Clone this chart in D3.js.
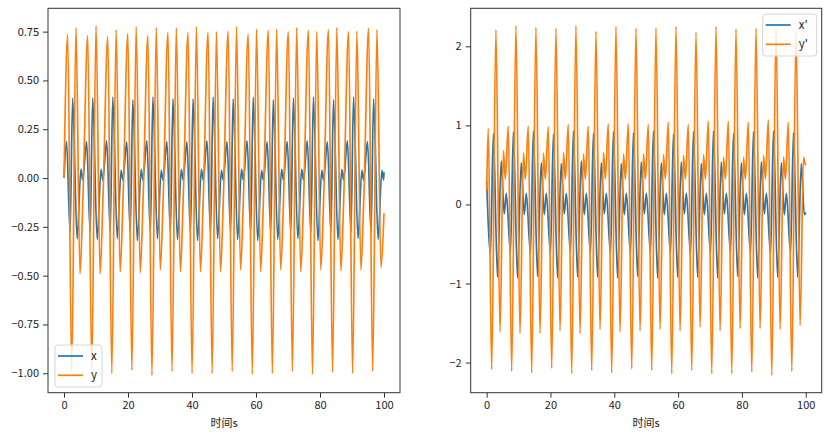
<!DOCTYPE html>
<html>
<head>
<meta charset="utf-8">
<script src="https://cdn.jsdelivr.net/npm/d3@7"></script>
<style>
  body { margin: 0; background: #fff; }
  text { font-family: "Noto Sans CJK SC", "Noto Sans", sans-serif; fill: #222; }
</style>
</head>
<body>
<div id="chart"></div>
<script>
// start of each oscillation cycle
const cycleStarts = [0, 6.27, 12.54, 18.81, 25.08, 31.35, 37.62, 43.89, 50.16, 56.43, 62.70, 68.97, 75.24, 81.51, 87.78, 94.05];

// x: extrema inside a cycle (time offset) and their values per cycle
const xOffsets = [0.80, 1.90, 2.70, 4.10, 5.30, 5.85];
const xCycles = [
    [0.187, -0.278, 0.409, -0.312, 0.046, -0.01],
    [0.187, -0.280, 0.410, -0.315, 0.045, -0.01],
    [0.190, -0.275, 0.415, -0.310, 0.040, -0.01],
    [0.185, -0.280, 0.400, -0.320, 0.045, -0.01],
    [0.190, -0.280, 0.415, -0.310, 0.040, -0.01],
    [0.187, -0.275, 0.405, -0.315, 0.045, -0.01],
    [0.185, -0.280, 0.405, -0.320, 0.045, -0.01],
    [0.190, -0.280, 0.415, -0.310, 0.040, -0.01],
    [0.187, -0.275, 0.405, -0.315, 0.045, -0.01],
    [0.190, -0.280, 0.415, -0.320, 0.040, -0.01],
    [0.185, -0.280, 0.400, -0.315, 0.045, -0.01],
    [0.187, -0.275, 0.410, -0.310, 0.045, -0.01],
    [0.190, -0.280, 0.415, -0.320, 0.040, -0.01],
    [0.185, -0.280, 0.400, -0.315, 0.045, -0.01],
    [0.190, -0.275, 0.415, -0.310, 0.040, -0.01],
    [0.187, -0.280, 0.405, -0.315, 0.040, -0.01]
];
const xEnds = [0.0, 0.03];

// y
const yOffsets = [1.15, 2.40, 3.74, 5.00, 5.95];
const yCycles = [
    [0.736, -0.990, 0.770, -0.490, -0.08],
    [0.730, -0.980, 0.780, -0.490, -0.08],
    [0.725, -1.000, 0.760, -0.480, -0.08],
    [0.740, -0.985, 0.775, -0.485, -0.08],
    [0.730, -1.010, 0.770, -0.470, -0.08],
    [0.746, -0.990, 0.768, -0.480, -0.08],
    [0.746, -1.000, 0.775, -0.480, -0.08],
    [0.746, -1.000, 0.750, -0.480, -0.08],
    [0.753, -0.990, 0.775, -0.470, -0.08],
    [0.738, -1.005, 0.763, -0.480, -0.08],
    [0.758, -1.000, 0.763, -0.470, -0.08],
    [0.750, -0.990, 0.770, -0.480, -0.08],
    [0.758, -1.005, 0.750, -0.470, -0.08],
    [0.760, -0.995, 0.770, -0.475, -0.08],
    [0.750, -1.000, 0.753, -0.470, -0.08],
    [0.767, -0.990, 0.760, -0.460, -0.08]
];
const yEnds = [0.0, -0.18];

// x'
const dxOffsets = [1.20, 2.10, 3.40, 4.55, 5.50, 6.15];
const dxCycles = [
    [-0.62, 0.90, -0.92, 0.55, -0.12, 0.14],
    [-0.61, 0.92, -0.93, 0.53, -0.13, 0.14],
    [-0.63, 0.93, -0.91, 0.53, -0.13, 0.14],
    [-0.62, 0.89, -0.93, 0.52, -0.12, 0.14],
    [-0.61, 0.93, -0.92, 0.55, -0.13, 0.14],
    [-0.62, 0.90, -0.92, 0.53, -0.12, 0.14],
    [-0.63, 0.92, -0.93, 0.52, -0.13, 0.14],
    [-0.62, 0.91, -0.91, 0.54, -0.12, 0.14],
    [-0.61, 0.93, -0.93, 0.53, -0.13, 0.14],
    [-0.62, 0.89, -0.92, 0.54, -0.12, 0.14],
    [-0.63, 0.92, -0.92, 0.52, -0.13, 0.14],
    [-0.62, 0.93, -0.93, 0.54, -0.12, 0.14],
    [-0.61, 0.90, -0.91, 0.53, -0.13, 0.14],
    [-0.62, 0.92, -0.93, 0.54, -0.12, 0.14],
    [-0.63, 0.93, -0.92, 0.53, -0.13, 0.14],
    [-0.62, 0.91, -0.92, 0.52, -0.13, 0.14]
];
const dxEnds = [0.30, -0.10];

// y'
const dyOffsets = [0.50, 1.58, 2.90, 4.18, 5.25, 5.85];
const dyCycles = [
    [0.96, -2.09, 2.21, -1.61, 0.68, 0.32],
    [0.99, -2.11, 2.26, -1.63, 0.65, 0.32],
    [0.99, -2.13, 2.24, -1.63, 0.65, 0.32],
    [0.98, -2.07, 2.23, -1.60, 0.66, 0.32],
    [1.01, -2.14, 2.26, -1.63, 0.64, 0.32],
    [0.99, -2.10, 2.19, -1.58, 0.66, 0.32],
    [1.02, -2.13, 2.25, -1.61, 0.64, 0.32],
    [1.02, -2.08, 2.23, -1.60, 0.64, 0.32],
    [1.01, -2.10, 2.23, -1.58, 0.63, 0.32],
    [1.04, -2.14, 2.25, -1.60, 0.62, 0.32],
    [1.01, -2.10, 2.18, -1.55, 0.63, 0.32],
    [1.05, -2.14, 2.25, -1.60, 0.60, 0.32],
    [1.05, -2.14, 2.22, -1.57, 0.60, 0.32],
    [1.04, -2.12, 2.23, -1.57, 0.62, 0.32],
    [1.07, -2.16, 2.23, -1.58, 0.60, 0.32],
    [1.04, -2.11, 2.18, -1.53, 0.60, 0.50]
];
const dyEnds = [0.18, 0.52];

const xTicks = [0, 20, 40, 60, 80, 100];
const leftYTicks = [-1.0, -0.75, -0.5, -0.25, 0, 0.25, 0.5, 0.75];
const rightYTicks = [-2, -1, 0, 1, 2];
const xLabel = "时间s";

const width = 830;
const height = 441;
const blue = "#1f77b4";
const orange = "#ff7f0e";

const svg = d3.select("#chart").append("svg")
    .attr("width", width)
    .attr("height", height);

svg.append("rect").attr("width", width).attr("height", height).attr("fill", "#fff");

function buildSeries(ends, offsets, cycles) {
    const pts = [[0, ends[0]]];
    cycleStarts.forEach((t0, k) => {
        offsets.forEach((o, i) => {
            const t = t0 + o;
            if (t < 100) pts.push([t, cycles[k][i]]);
        });
    });
    pts.push([100, ends[1]]);
    return pts;
}

function drawPanel(box, series, yTicks, yFormat, legendPos, id) {
    const all = series.flatMap(s => s.points.map(p => p[1]));
    const lo = d3.min(all), hi = d3.max(all);
    const pad = (hi - lo) * 0.05;

    const x = d3.scaleLinear().domain([-5, 105]).range([box.x0, box.x1]);
    const y = d3.scaleLinear().domain([lo - pad, hi + pad]).range([box.y1, box.y0]);

    svg.append("clipPath").attr("id", id)
        .append("rect")
        .attr("x", box.x0).attr("y", box.y0)
        .attr("width", box.x1 - box.x0).attr("height", box.y1 - box.y0);

    const line = d3.line()
        .x(d => x(d[0]))
        .y(d => y(d[1]))
        .curve(d3.curveMonotoneX);

    const plot = svg.append("g").attr("clip-path", `url(#${id})`);
    series.forEach(s => {
        plot.append("path")
            .datum(s.points)
            .attr("fill", "none")
            .attr("stroke", s.color)
            .attr("stroke-width", 1.7)
            .attr("stroke-linejoin", "round")
            .attr("d", line);
    });

    const xAxis = svg.append("g")
        .attr("transform", `translate(0,${box.y1})`)
        .call(d3.axisBottom(x).tickValues(xTicks).tickSize(5).tickPadding(4).tickFormat(d3.format("d")));
    const yAxis = svg.append("g")
        .attr("transform", `translate(${box.x0},0)`)
        .call(d3.axisLeft(y).tickValues(yTicks).tickSize(5).tickPadding(4).tickFormat(yFormat));

    [xAxis, yAxis].forEach(a => {
        a.select(".domain").remove();
        a.selectAll("line").attr("stroke", "#333").attr("stroke-width", 1);
        a.selectAll("text")
            .style("font-family", "'Noto Sans CJK SC', sans-serif")
            .style("font-size", "11px")
            .attr("fill", "#222");
    });

    svg.append("rect")
        .attr("x", box.x0).attr("y", box.y0)
        .attr("width", box.x1 - box.x0).attr("height", box.y1 - box.y0)
        .attr("fill", "none")
        .attr("stroke", "#333")
        .attr("stroke-width", 1);

    svg.append("text")
        .attr("x", (box.x0 + box.x1) / 2)
        .attr("y", 427)
        .attr("text-anchor", "middle")
        .style("font-size", "11px")
        .text(xLabel);

    // legend
    const lg = svg.append("g").attr("transform", `translate(${legendPos.x},${legendPos.y})`);
    lg.append("rect")
        .attr("width", legendPos.w).attr("height", 42)
        .attr("rx", 3)
        .attr("fill", "#fff").attr("fill-opacity", 0.8)
        .attr("stroke", "#d6d6d6");
    series.forEach((s, i) => {
        const cy = 11 + i * 19.3;
        lg.append("line")
            .attr("x1", 3).attr("x2", 28)
            .attr("y1", cy).attr("y2", cy)
            .attr("stroke", s.color).attr("stroke-width", 1.7);
        lg.append("text")
            .attr("x", 36).attr("y", cy + 4)
            .style("font-size", "11.5px")
            .text(s.name);
    });
}

const leftBox = { x0: 48, x1: 400, y0: 8.3, y1: 392.7 };
const rightBox = { x0: 470.7, x1: 821.7, y0: 8.3, y1: 392.7 };

drawPanel(leftBox, [
    { name: "x", color: blue, points: buildSeries(xEnds, xOffsets, xCycles) },
    { name: "y", color: orange, points: buildSeries(yEnds, yOffsets, yCycles) }
], leftYTicks, d3.format(".2f"), { x: 55, y: 345, w: 47 }, "clipL");

drawPanel(rightBox, [
    { name: "x'", color: blue, points: buildSeries(dxEnds, dxOffsets, dxCycles) },
    { name: "y'", color: orange, points: buildSeries(dyEnds, dyOffsets, dyCycles) }
], rightYTicks, d3.format("d"), { x: 762.7, y: 14, w: 54 }, "clipR");
</script>
</body>
</html>
